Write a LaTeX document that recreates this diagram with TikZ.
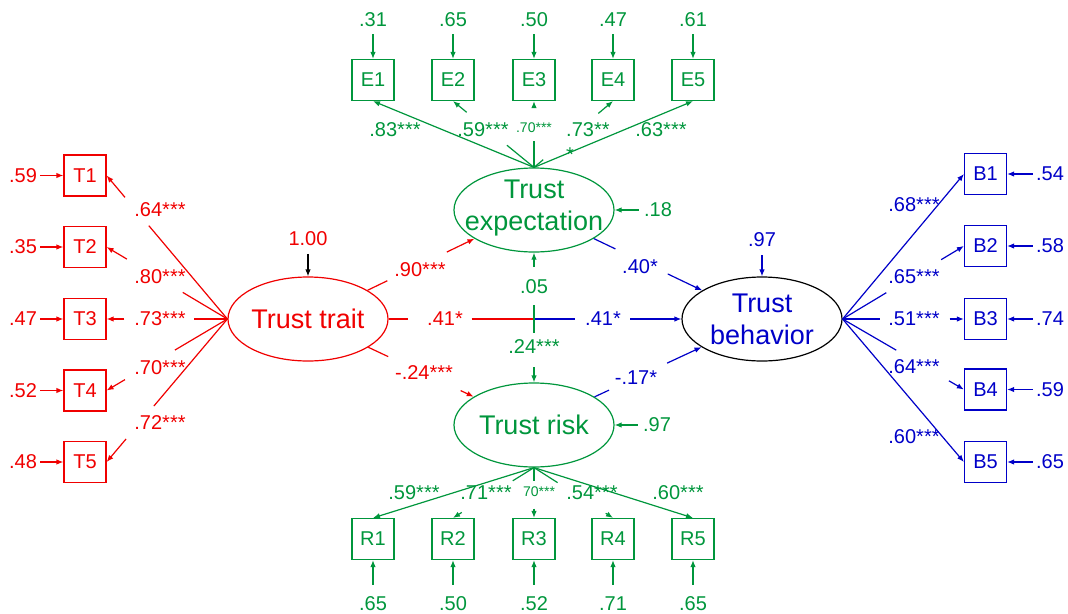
\documentclass[tikz,border=0pt]{standalone}
\usepackage{fontspec}
\setmainfont{Liberation Sans}
\usetikzlibrary{shapes.geometric,arrows.meta}
\definecolor{cR}{RGB}{240,0,0}
\definecolor{cG}{RGB}{0,150,60}
\definecolor{cB}{RGB}{0,0,200}
\newcommand{\lblfont}{\fontsize{20}{25}\selectfont}
\newcommand{\bigfont}{\fontsize{27}{32}\selectfont}
\newcommand{\smlfont}{\fontsize{14}{17}\selectfont}
\begin{document}
\begin{tikzpicture}[x=1pt,y=-1pt,
  box/.style={draw, minimum width=42pt, minimum height=41pt, inner sep=0pt, font=\lblfont, line width=1.2pt},
  lat/.style={draw, ellipse, minimum width=160pt, minimum height=84pt, inner sep=0pt, line width=1.2pt},
  lbl/.style={font=\lblfont, inner sep=1pt},
  sml/.style={font=\smlfont, inner sep=1pt},
  big/.style={font=\bigfont, inner sep=0pt, align=center},
  con/.style={line width=1.2pt, -{Latex[length=7pt,width=5.5pt]}},
  ln/.style={line width=1.2pt},
  brk/.style args={#1/#2}{dash pattern=on #1pt off #2pt on 500pt}
]
\useasboundingbox (0,0) rectangle (1068,613);

% latent variables
\node[lat, draw=cR] (trait) at (308,319) {};
\node[big, text=cR] (traitT) at (trait) {Trust trait};
\node[lat, draw=cG] (expect) at (534,210) {};
\node[big, text=cG] (expectT) at ([yshift=2pt]expect) {Trust\\expectation};
\node[lat, draw=cG] (risk) at (534,425) {};
\node[big, text=cG] (riskT) at (risk) {Trust risk};
\node[lat, draw=black] (behav) at (762,319) {};
\node[big, text=cB] (behavT) at (behav) {Trust\\behavior};
\coordinate (mid) at (534,319);

% indicator boxes
\foreach \i/\y in {1/175.5,2/247,3/319,4/390.5,5/462}
  \node[box, draw=cR, text=cR] (T\i) at (85,\y) {T\i};
\foreach \i/\x in {1/373,2/453,3/534,4/613,5/693}{
  \node[box, draw=cG, text=cG] (E\i) at (\x,80) {E\i};
  \node[box, draw=cG, text=cG] (R\i) at (\x,539) {R\i};
}
\foreach \i/\y in {1/174,2/246,3/319,4/389.5,5/462}
  \node[box, draw=cB, text=cB] (B\i) at (985.5,\y) {B\i};

% error terms
\foreach \i/\y/\v in {1/175.5/.59,2/247/.35,3/319/.47,4/390.5/.52,5/462/.48}{
  \node[lbl, text=cR] (eT\i) at (23,\y) {\v};
  \draw[con, cR, shorten <=2pt] (eT\i) -- (T\i);
}
\foreach \i/\x/\v in {1/373/.31,2/453/.65,3/534/.50,4/613/.47,5/693/.61}{
  \node[lbl, text=cG] (eE\i) at (\x,20) {\v};
  \draw[con, cG, shorten <=6pt] (eE\i) -- (E\i);
}
\foreach \i/\x/\v in {1/373/.65,2/453/.50,3/534/.52,4/613/.71,5/693/.65}{
  \node[lbl, text=cG] (eR\i) at (\x,604) {\v};
  \draw[con, cG, shorten <=11pt] (eR\i) -- (R\i);
}
\foreach \i/\y/\v in {1/174/.54,2/246/.58,3/319/.74,4/389.5/.59,5/462/.65}{
  \node[lbl, text=cB] (eB\i) at (1050,\y) {\v};
  \draw[con, cB, shorten <=2pt] (eB\i) -- (B\i);
}

% disturbances
\node[lbl, text=cR] (dT) at (308,238.5) {1.00};
\draw[con, black, shorten <=7pt] (dT) -- (trait);
\node[lbl, text=cG] (dE) at (658,210) {.18};
\draw[con, cG, shorten <=4pt] (dE) -- (expect);
\node[lbl, text=cG] (dR) at (657,425) {.97};
\draw[con, cG, shorten <=4pt] (dR) -- (risk);
\node[lbl, text=cB] (dB) at (762,240) {.97};
\draw[con, cB, shorten <=7pt] (dB) -- (behav);

% trait loadings
\draw[con, cR, brk=122/37] (trait.west) -- (T1.east);
\draw[con, cR, brk=52/65]  (trait.west) -- (T2.east);
\draw[con, cR, brk=33/70]  (trait.west) -- (T3.east);
\draw[con, cR, brk=61/58]  (trait.west) -- (T4.east);
\draw[con, cR, brk=114/43] (trait.west) -- (T5.east);
\node[lbl, text=cR] (lT1) at (160,210) {.64***};
\node[lbl, text=cR] (lT2) at (160,277) {.80***};
\node[lbl, text=cR] (lT3) at (160,319) {.73***};
\node[lbl, text=cR] (lT4) at (160,368) {.70***};
\node[lbl, text=cR] (lT5) at (160,423) {.72***};

% expectation loadings
\draw[con, cG] (expect.north) -- (E1.south);
\draw[con, cG, brk=35/52] (expect.north) -- (E2.south);
\draw[con, cG, brk=26/34] (expect.north) -- (E3.south);
\draw[con, cG, brk=12/72] (expect.north) -- (E4.south);
\draw[con, cG] (expect.north) -- (E5.south);
\node[lbl, text=cG] (lE1) at (395,130) {.83***};
\node[lbl, text=cG] (lE2) at (483,130) {.59***};
\node[sml, text=cG] (lE3) at (534,128) {.70***};
\node[lbl, text=cG, align=left, anchor=north west] (lE4) at (565,121.5) {.73**\\*};
\node[lbl, text=cG] (lE5) at (661,130) {.63***};

% risk loadings
\draw[con, cG] (risk.south) -- (R1.north);
\draw[con, cG, brk=25/60] (risk.south) -- (R2.north);
\draw[con, cG, brk=13/28] (risk.south) -- (R3.north);
\draw[con, cG, brk=28/57] (risk.south) -- (R4.north);
\draw[con, cG] (risk.south) -- (R5.north);
\node[lbl, text=cG] (lR1) at (414,493) {.59***};
\node[lbl, text=cG] (lR2) at (486,493) {.71***};
\node[sml, text=cG] (lR3) at (539,492) {70***};
\node[lbl, text=cG] (lR4) at (592,493) {.54***};
\node[lbl, text=cG] (lR5) at (678,493) {.60***};

% behavior loadings
\draw[con, cB] (behav.east) -- (B1.west);
\draw[con, cB, brk=51/64] (behav.east) -- (B2.west);
\draw[con, cB, brk=37/70] (behav.east) -- (B3.west);
\draw[con, cB, brk=62/61] (behav.east) -- (B4.west);
\draw[con, cB] (behav.east) -- (B5.west);
\node[lbl, text=cB] (lB1) at (914,205) {.68***};
\node[lbl, text=cB] (lB2) at (914,277) {.65***};
\node[lbl, text=cB] (lB3) at (914,319) {.51***};
\node[lbl, text=cB] (lB4) at (914,367) {.64***};
\node[lbl, text=cB] (lB5) at (914,437) {.60***};

% structural paths
\draw[con, cR, brk=22/66] (trait) -- (expect);
\draw[con, cR, brk=22/80] (trait) -- (risk);
\draw[con, cB, brk=24/58] (expect) -- (behav);
\draw[con, cB, brk=16/64] (risk) -- (behav);
\draw[ln, draw=cR, brk=19/64] (trait.east) -- (mid);
\draw[con, cB, brk=41/55] (mid) -- (behav.west);
\draw[con, cG, brk=14/38] (mid) -- (expect.south);
\draw[con, cG, brk=14/34] (mid) -- (risk.north);
\node[lbl, text=cR] (lTE) at (420,270) {.90***};
\node[lbl, text=cR] (lTR) at (424,373) {-.24***};
\node[lbl, text=cR] (lTB1) at (445,319) {.41*};
\node[lbl, text=cB] (lTB2) at (603,319) {.41*};
\node[lbl, text=cG] (lME) at (534,287) {.05};
\node[lbl, text=cG] (lMR) at (534,347) {.24***};
\node[lbl, text=cB] (lEB) at (640,267) {.40*};
\node[lbl, text=cB] (lRB) at (636,378) {-.17*};
\end{tikzpicture}
\end{document}
